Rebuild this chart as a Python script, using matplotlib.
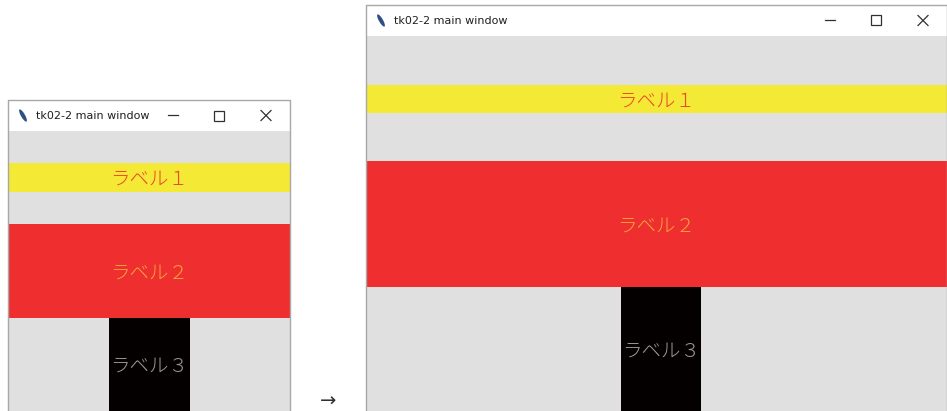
import matplotlib.pyplot as plt
from matplotlib.patches import Rectangle, Ellipse

plt.rcParams['font.family'] = ['Noto Sans CJK JP', 'DejaVu Sans']

W, H = 947, 411

# window frames: left, top, right, bottom, title bar bottom
win_names = ["small", "large"]
win_box = [(8, 100, 290, 411, 131), (366, 5, 947, 411, 36)]
win_title = "tk02-2 main window"

# labels inside each window: (x0, y0, x1, y1)
label_texts = ["ラベル１", "ラベル２", "ラベル３"]
label_bg = ["#f4e935", "#ef2f2f", "#050000"]
label_fg = ["#f0452a", "#f7a13a", "#9a9a9a"]
small_boxes = [(8, 163, 290, 192), (8, 224, 290, 318), (109, 318, 190, 411)]
large_boxes = [(366, 85, 947, 113), (366, 161, 947, 287), (621, 287, 701, 411)]

fig = plt.figure(figsize=(W / 100, H / 100), dpi=100)
ax = fig.add_axes([0, 0, 1, 1])
ax.set_xlim(0, W)
ax.set_ylim(H, 0)
ax.axis('off')

for (x0, y0, x1, y1, tb), boxes in zip(win_box, [small_boxes, large_boxes]):
    # client area
    ax.add_patch(Rectangle((x0, tb), x1 - x0, y1 - tb, facecolor="#e0e0e0", edgecolor="none"))
    # title bar
    ax.add_patch(Rectangle((x0, y0), x1 - x0, tb - y0, facecolor="white", edgecolor="none"))
    ax.plot([x0, x0, x1, x1], [y1, y0, y0, y1], color="#a8a8a8", lw=1)
    ty = (y0 + tb) / 2
    # feather icon
    ax.add_patch(Ellipse((x0 + 15, ty), 4, 14, angle=-30, facecolor="#2d4f86", edgecolor="none"))
    ax.text(x0 + 28, ty, win_title, fontsize=8, family="DejaVu Sans", color="#202020",
            va="center", ha="left")
    # window controls
    cx = x1 - 24
    ax.plot([cx - 5, cx + 5], [ty - 5, ty + 5], color="#303030", lw=0.9)
    ax.plot([cx - 5, cx + 5], [ty + 5, ty - 5], color="#303030", lw=0.9)
    mx = cx - 47
    ax.add_patch(Rectangle((mx - 5, ty - 5), 10, 10, facecolor="none", edgecolor="#303030", lw=0.9))
    nx = mx - 46
    ax.plot([nx - 5, nx + 5], [ty, ty], color="#303030", lw=0.9)
    # labels
    for (bx0, by0, bx1, by1), txt, bg, fg in zip(boxes, label_texts, label_bg, label_fg):
        ax.add_patch(Rectangle((bx0, by0), bx1 - bx0, by1 - by0, facecolor=bg, edgecolor="none"))
        ax.text((bx0 + bx1) / 2, (by0 + by1) / 2 + 2, txt, fontsize=14, color=fg,
                ha="center", va="center", fontweight="light")

ax.text(328, 407, "→", fontsize=14, family="DejaVu Sans", color="#303030", ha="center",
        va="baseline")

fig.savefig("out.png", dpi=100)
